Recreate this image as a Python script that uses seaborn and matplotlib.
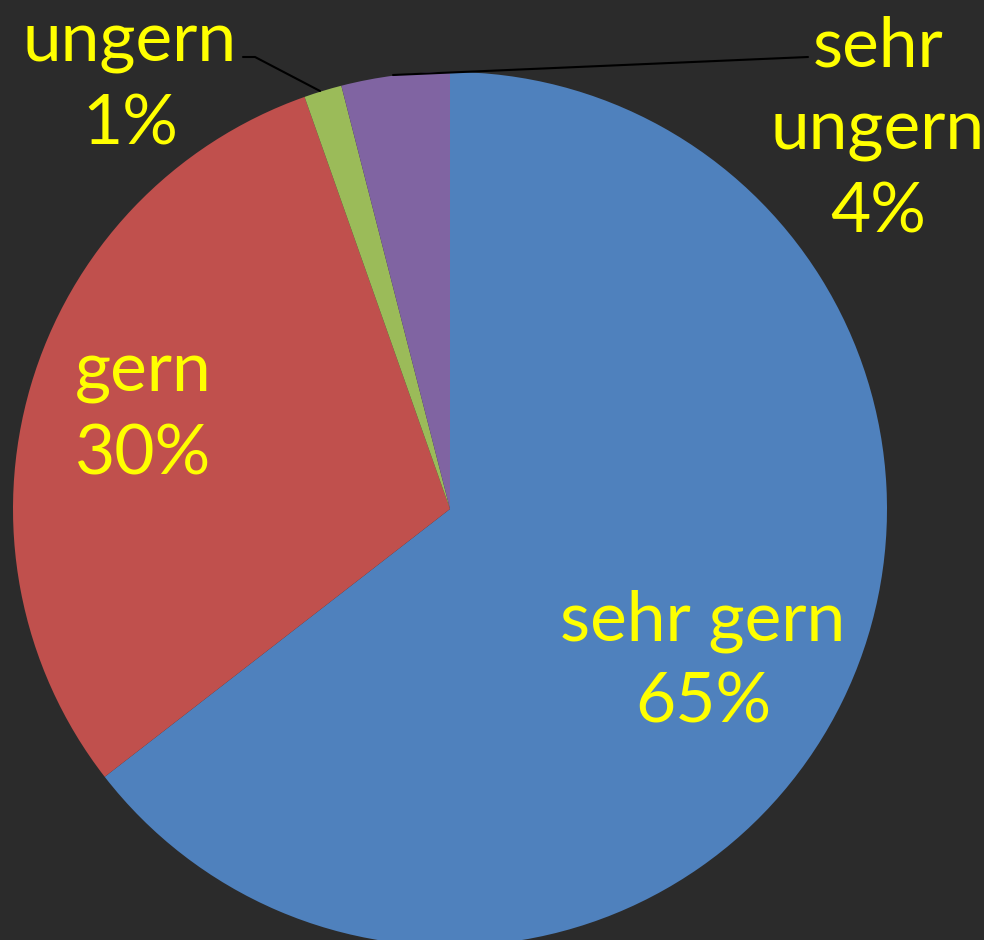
import numpy as np
import pandas as pd
import matplotlib
matplotlib.use("Agg")
import matplotlib.pyplot as plt
import seaborn as sns

# answers, clockwise from 12 o'clock
categories = ["sehr gern", "gern", "ungern", "sehr ungern"]
shares = [64.5, 30.1, 1.4, 4.0]
pct_labels = ["65%", "30%", "1%", "4%"]
slice_colors = ["#4F81BD", "#C0504D", "#9BBB59", "#8064A2"]

df = pd.DataFrame({"Antwort": categories, "Anteil": shares, "Label": pct_labels})

sns.set_theme(style="dark")
plt.rcParams["font.family"] = ["Lato", "DejaVu Sans"]

W, H = 984, 940
bg = "#2b2b2b"
fig = plt.figure(figsize=(W / 100, H / 100), dpi=100, facecolor=bg)
ax = fig.add_axes([0, 0, 1, 1])
ax.set_facecolor(bg)

palette = sns.color_palette(slice_colors)
ax.pie(df["Anteil"], colors=palette, startangle=90, counterclock=False,
       center=(450, H - 509), radius=437, frame=True,
       wedgeprops=dict(linewidth=0))

ax.set_xlim(0, W)
ax.set_ylim(0, H)
ax.set_aspect("equal")
ax.axis("off")

yellow = "#FFFF00"
fs = 50
label_pos = {
    "sehr gern": (703, 662, "sehr gern"),
    "gern": (143, 414, "gern"),
    "ungern": (130, 84, "ungern"),
    "sehr ungern": (878, 130, "sehr\nungern"),
}
for _, row in df.iterrows():
    x, y, name = label_pos[row["Antwort"]]
    ax.text(x, H - y, f"{name}\n{row['Label']}", color=yellow, fontsize=fs,
            ha="center", va="center", linespacing=1.38)

# leader lines for the two small slices
ax.plot([243, 255, 320], [H - 57, H - 57, H - 91], color="black", lw=1.5)
ax.plot([393, 808], [H - 75, H - 57], color="black", lw=1.5)

fig.savefig("out.png", dpi=100, facecolor=bg)
